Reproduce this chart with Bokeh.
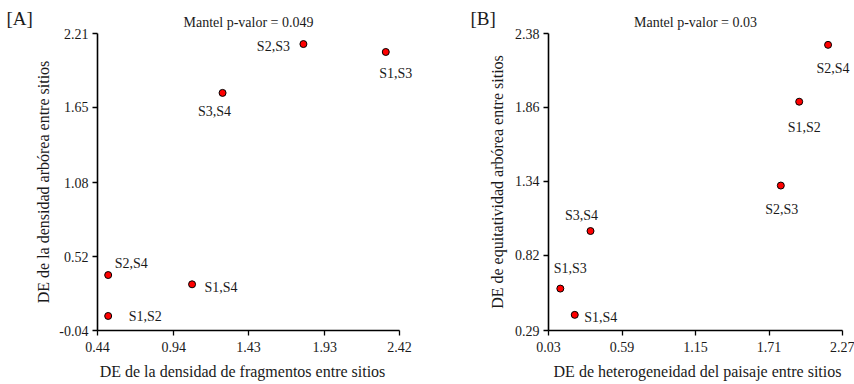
from bokeh.plotting import figure
from bokeh.layouts import row
from bokeh.models import (FixedTicker, Label, LabelSet, ColumnDataSource,
                          Range1d, PrintfTickFormatter)
from bokeh.core.properties import value
from bokeh.embed import file_html
from bokeh.resources import INLINE

# ---------------- data ----------------
pairs_a = ["S1,S2", "S2,S4", "S1,S4", "S3,S4", "S2,S3", "S1,S3"]
frag_density_a = [0.51, 0.51, 1.06, 1.26, 1.79, 2.33]
tree_density_a = [0.07, 0.38, 0.31, 1.76, 2.13, 2.07]
xticks_a = [0.44, 0.94, 1.43, 1.93, 2.42]
yticks_a = [-0.04, 0.52, 1.08, 1.65, 2.21]
mantel_a = "Mantel p-valor = 0.049"
xlabel_a = "DE de la densidad de fragmentos entre sitios"
ylabel_a = "DE de la densidad arbórea entre sitios"

pairs_b = ["S1,S4", "S1,S3", "S3,S4", "S2,S3", "S1,S2", "S2,S4"]
heterog_b = [0.23, 0.12, 0.35, 1.80, 1.94, 2.16]
evenness_b = [0.40, 0.585, 0.99, 1.31, 1.90, 2.30]
xticks_b = [0.03, 0.59, 1.15, 1.71, 2.27]
yticks_b = [0.29, 0.82, 1.34, 1.86, 2.38]
mantel_b = "Mantel p-valor = 0.03"
xlabel_b = "DE de heterogeneidad del paisaje entre sitios"
ylabel_b = "DE de equitatividad arbórea entre sitios"

# ---------------- label placement (screen px offsets) ----------------
dx_a = [37, 23, 29, -8, -30, 10]
dy_a = [-1, 12, -3, -19, -2, -22]
dx_b = [26, 10, -9, 1, 5, 5]
dy_b = [-3, 20, 16, -24, -26, -24]

FONT = "Liberation Serif"
TXT = "#1a1a1a"


def panel(tag, title, xs, ys, names, dx, dy, xticks, yticks, xlabel, ylabel,
          width, bl, br, axis_px, tag_x, xlab_cx, ylab_standoff):
    frame_w = width - bl - br
    # frame extends right of the axis so point labels are not clipped;
    # the x axis itself is bounded to the tick extent
    x_end = xticks[0] + (xticks[-1] - xticks[0]) * frame_w / axis_px
    p = figure(width=width, height=384, output_backend="svg", toolbar_location=None,
               x_range=Range1d(xticks[0], x_end),
               y_range=Range1d(yticks[0], yticks[-1]),
               min_border_left=bl, min_border_right=br,
               min_border_top=33, min_border_bottom=54)
    p.outline_line_color = None
    p.grid.visible = False
    p.background_fill_color = "white"
    p.border_fill_color = "white"
    for ax, ticks in ((p.xaxis[0], xticks), (p.yaxis[0], yticks)):
        ax.ticker = FixedTicker(ticks=ticks)
        ax.formatter = PrintfTickFormatter(format="%.2f")
        ax.major_label_text_font = FONT
        ax.major_label_text_font_size = "14px"
        ax.major_label_text_color = TXT
        ax.axis_line_color = "black"
        ax.axis_line_width = 1.6
        ax.major_tick_line_color = "black"
        ax.major_tick_line_width = 1.3
        ax.major_tick_out = 5
        ax.major_tick_in = 0
        ax.minor_tick_line_color = None
    yax = p.yaxis[0]
    yax.axis_label = ylabel
    yax.axis_label_text_font = FONT
    yax.axis_label_text_font_size = "16px"
    yax.axis_label_text_font_style = "normal"
    yax.axis_label_text_color = TXT
    yax.major_label_standoff = 4
    yax.axis_label_standoff = ylab_standoff
    xax = p.xaxis[0]
    xax.bounds = (xticks[0], xticks[-1])
    xax.major_label_standoff = 6

    src = ColumnDataSource(dict(x=xs, y=ys, name=names, dx=dx, dy=dy))
    p.scatter("x", "y", source=src, size=7, fill_color="#ff0000",
              line_color="black", line_width=1)
    p.add_layout(LabelSet(x="x", y="y", text="name", source=src,
                          x_offset="dx", y_offset="dy",
                          text_align="center", text_baseline="middle",
                          text_font=value(FONT), text_font_size=value("14px"),
                          text_color=TXT))
    # Mantel caption above the frame
    p.add_layout(Label(x=axis_px / 2, y=11, x_units="screen", y_units="screen",
                       text=title, text_align="center", text_baseline="middle",
                       text_font=FONT, text_font_size="14px", text_color=TXT), "above")
    # panel tag, outside the y axis
    p.add_layout(Label(x=tag_x, y=312, x_units="screen", y_units="screen",
                       text=tag, text_align="left", text_baseline="middle",
                       text_font=FONT, text_font_size="19px", text_color=TXT), "left")
    # x axis title under the tick labels
    p.add_layout(Label(x=xlab_cx, y=0, x_units="screen", y_units="screen",
                       text=xlabel, text_align="center", text_baseline="middle",
                       text_font=FONT, text_font_size="16px", text_color=TXT), "below")
    return p


pa = panel("[A]", mantel_a, frag_density_a, tree_density_a, pairs_a, dx_a, dy_a,
           xticks_a, yticks_a, xlabel_a, ylabel_a,
           440, 97, 27, 302, 0, 145, 4)
pb = panel("[B]", mantel_b, heterog_b, evenness_b, pairs_b, dx_b, dy_b,
           xticks_b, yticks_b, xlabel_b, ylabel_b,
           414, 108, 2, 294, 10, 149, 6)

layout = row(pa, pb, spacing=0)
open("out.html", "w").write(file_html(layout, INLINE))
